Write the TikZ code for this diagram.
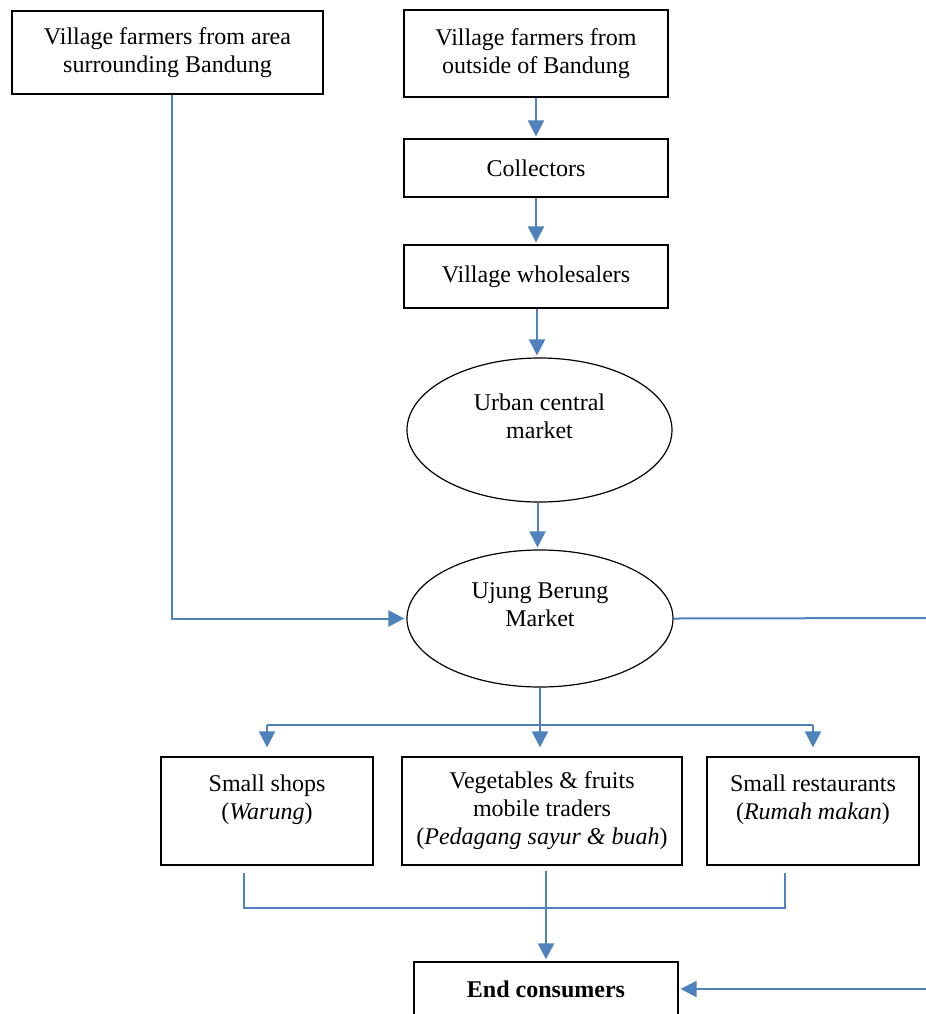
\documentclass[tikz,border=0pt]{standalone}
\usepackage{fontspec}
\setmainfont{Liberation Serif}
\usetikzlibrary{shapes.geometric,arrows.meta}
\definecolor{flowblue}{RGB}{79,129,189}

\begin{document}
\begin{tikzpicture}[x=0.5pt,y=-0.5pt,font=\fontsize{12}{14}\selectfont,
	box/.style={shape=rectangle,draw=black,line width=0.6pt,align=center,inner sep=0pt},
	oval/.style={shape=ellipse,draw=black,line width=0.6pt,align=center,inner sep=0pt},
	link/.style={draw=flowblue,line width=1pt},
	flow/.style={link,-{Triangle[width=8pt,length=8pt]},shorten >=1pt}]

	\useasboundingbox (0,0) rectangle (926,1014);
	\clip (0,0) rectangle (926,1014);

	\node[box,minimum width=155.5pt,minimum height=41.5pt] (area) at (167.5, 52.5) {Village farmers from area\\surrounding Bandung};
	\node[box,minimum width=132pt,minimum height=43.5pt] (outside) at (536, 53.5) {Village farmers from\\outside of Bandung};
	\node[box,minimum width=132pt,minimum height=29pt] (coll) at (536, 168) {Collectors};
	\node[box,minimum width=132pt,minimum height=31.5pt] (whole) at (536, 276.5) {Village wholesalers};
	\node[oval,minimum width=132.5pt,minimum height=72pt] (urban) at (539.5, 430) {Urban central\\market\\\mbox{}};
	\node[oval,minimum width=133pt,minimum height=68.5pt] (ujung) at (540, 618.5) {Ujung Berung\\Market\\\mbox{}};
	\node[box,minimum width=106pt,minimum height=54pt] (shops) at (267, 811) {Small shops\\(\textit{Warung})\\\mbox{}};
	\node[box,minimum width=140pt,minimum height=54pt] (veg) at (542, 811) {Vegetables \& fruits\\mobile traders\\(\textit{Pedagang sayur \& buah})};
	\node[box,minimum width=106pt,minimum height=54pt] (rest) at (813, 811) {Small restaurants\\(\textit{Rumah makan})\\\mbox{}};
	\node[box,minimum width=132pt,minimum height=27pt] (endc) at (546, 989) {\textbf{End consumers}};

	\coordinate (rightA) at (926, 618);
	\coordinate (rightB) at (926, 989);
	\coordinate (split) at (541, 725);
	\coordinate (gatherL) at (244, 873);
	\coordinate (gatherR) at (785, 873);
	\coordinate (join) at (545, 908);

	\draw[flow] (outside) -- (coll);
	\draw[flow] (coll) -- (whole);
	\draw[flow] ([xshift=0.5pt]whole.south) -- ([xshift=0.5pt]whole.south |- urban.north);
	\draw[flow] ([xshift=-1pt]urban.south) -- ([xshift=-1pt]urban.south |- ujung.north);
	\draw[flow] ([xshift=2.25pt]area.south) |- (ujung.west);
	\draw[link] (ujung.east) -- (rightA);

	\draw[flow,shorten >=4.5pt] (ujung.south) -- (ujung.south |- veg.north);
	\draw[link] (split -| shops) -- (split -| rest);
	\draw[flow,shorten >=4.5pt] (split -| shops) -- (shops);
	\draw[flow,shorten >=4.5pt] (split -| rest) -- (rest);

	\draw[link] (gatherL) |- (join) -| (gatherR);
	\draw[flow,shorten <=2.5pt] (veg.south -| endc) -- (endc);
	\draw[flow] (rightB) -- (endc);

\end{tikzpicture}
\end{document}
